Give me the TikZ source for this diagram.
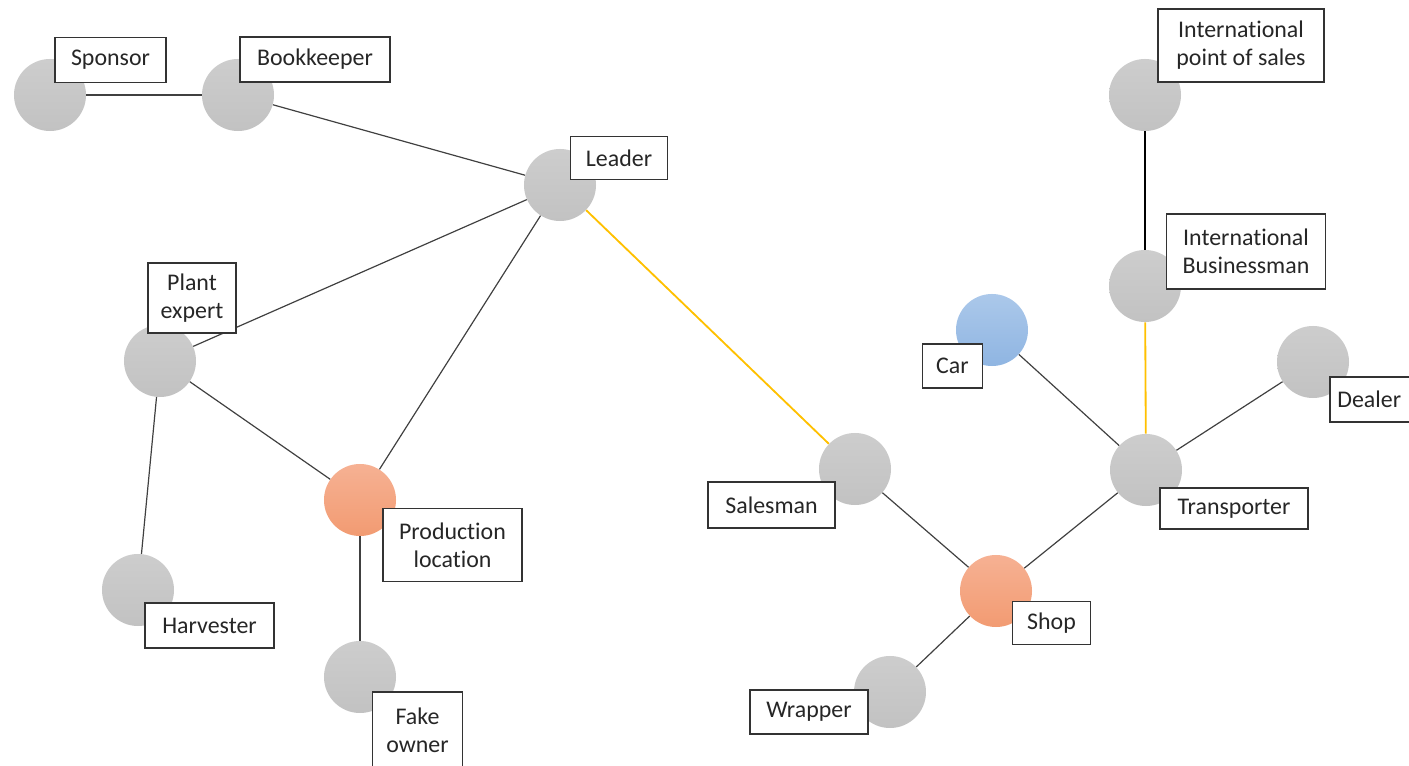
\documentclass[tikz,border=0pt]{standalone}
\usepackage{fontspec}
\setmainfont{Carlito}[RawFeature={-liga;-dlig}]
\definecolor{nodegrayT}{HTML}{CDCDCD}
\definecolor{nodegrayB}{HTML}{C2C2C2}
\definecolor{orangeT}{HTML}{F6B193}
\definecolor{orangeB}{HTML}{F29B72}
\definecolor{blueT}{HTML}{ABC8EA}
\definecolor{blueB}{HTML}{8FB5E2}
\definecolor{linegray}{HTML}{404040}
\definecolor{ylw}{HTML}{FFC000}
\tikzset{
  actor/.style={circle, minimum size=1.8cm, inner sep=0pt, draw=none, top color=nodegrayT, bottom color=nodegrayB},
  hub/.style={actor, top color=orangeT, bottom color=orangeB},
  vehicle/.style={actor, top color=blueT, bottom color=blueB},
  lbl/.style={draw=black!80, line width=0.8pt, fill=white, align=center, inner sep=0pt,
    font=\fontsize{17}{20}\selectfont, text=black!85},
  link/.style={draw=linegray, line width=0.85pt},
  keylink/.style={draw=ylw, line width=1.3pt},
  strong/.style={draw=black, line width=1.3pt}
}
\begin{document}
\begin{tikzpicture}[x=0.025cm,y=-0.025cm]
\useasboundingbox (0,0) rectangle (1409,766);
% circles
\node[actor] (sponsor) at (50,95) {};
\node[actor] (book) at (238,95) {};
\node[actor] (leader) at (560,185) {};
\node[actor] (plant) at (160,361) {};
\node[actor] (harv) at (138,590) {};
\node[hub] (prod) at (360,500) {};
\node[actor] (fake) at (360,677) {};
\node[actor] (sales) at (855,469) {};
\node[hub] (shop) at (996,591) {};
\node[actor] (wrap) at (890,692) {};
\node[actor] (trans) at (1146,470) {};
\node[vehicle] (car) at (992,330) {};
\node[actor] (dealer) at (1313,362) {};
\node[actor] (ibiz) at (1145,286) {};
\node[actor] (ipos) at (1145,95) {};
% connectors
\draw[link] (sponsor) -- (book);
\draw[link] (book) -- (leader);
\draw[link] (leader) -- (plant);
\draw[link] (leader) -- (prod);
\draw[keylink] (leader) -- (sales);
\draw[link] (plant) -- (prod);
\draw[link] (plant) -- (harv);
\draw[link] (prod) -- (fake);
\draw[link] (sales) -- (shop);
\draw[link] (shop) -- (wrap);
\draw[link] (shop) -- (trans);
\draw[link] (trans) -- (car);
\draw[link] (trans) -- (dealer);
\draw[keylink] (trans) -- (ibiz);
\draw[strong] (ibiz) -- (ipos);
% labels
\node[lbl, minimum width=111*0.025cm, minimum height=45*0.025cm] (lsponsor) at (110.5,59.8) {Sponsor};
\node[lbl, minimum width=150*0.025cm, minimum height=45*0.025cm] (lbook) at (315,59.5) {Bookkeeper};
\node[lbl, minimum width=97*0.025cm, minimum height=43*0.025cm] (lleader) at (619,158) {Leader};
\node[lbl, minimum width=88*0.025cm, minimum height=70*0.025cm] (lplant) at (192,298) {Plant\\expert};
\node[lbl, minimum width=129*0.025cm, minimum height=45*0.025cm] (lharv) at (209.5,625.5) {Harvester};
\node[lbl, minimum width=139*0.025cm, minimum height=73*0.025cm] (lprod) at (452.5,545) {Production\\location};
\node[lbl, minimum width=90*0.025cm, minimum height=76*0.025cm] (lfake) at (417.5,730) {Fake\\owner};
\node[lbl, minimum width=127*0.025cm, minimum height=46*0.025cm] (lsales) at (771.5,505) {Salesman};
\node[lbl, minimum width=78*0.025cm, minimum height=43*0.025cm] (lshop) at (1051.5,623) {Shop};
\node[lbl, minimum width=118*0.025cm, minimum height=44*0.025cm] (lwrap) at (809,712) {Wrapper};
\node[lbl, minimum width=148*0.025cm, minimum height=41*0.025cm] (ltrans) at (1234,508.5) {Transporter};
\node[lbl, minimum width=60*0.025cm, minimum height=44*0.025cm] (lcar) at (952.5,366) {Car};
\node[lbl, minimum width=84*0.025cm, minimum height=45*0.025cm] (ldealer) at (1372,399.5) {Dealer\hspace*{4pt}};
\node[lbl, minimum width=159*0.025cm, minimum height=75*0.025cm] (libiz) at (1246,251.5) {International\\Businessman};
\node[lbl, minimum width=166*0.025cm, minimum height=73*0.025cm] (lipos) at (1241,45.5) {International\\point of sales};
\end{tikzpicture}
\end{document}
